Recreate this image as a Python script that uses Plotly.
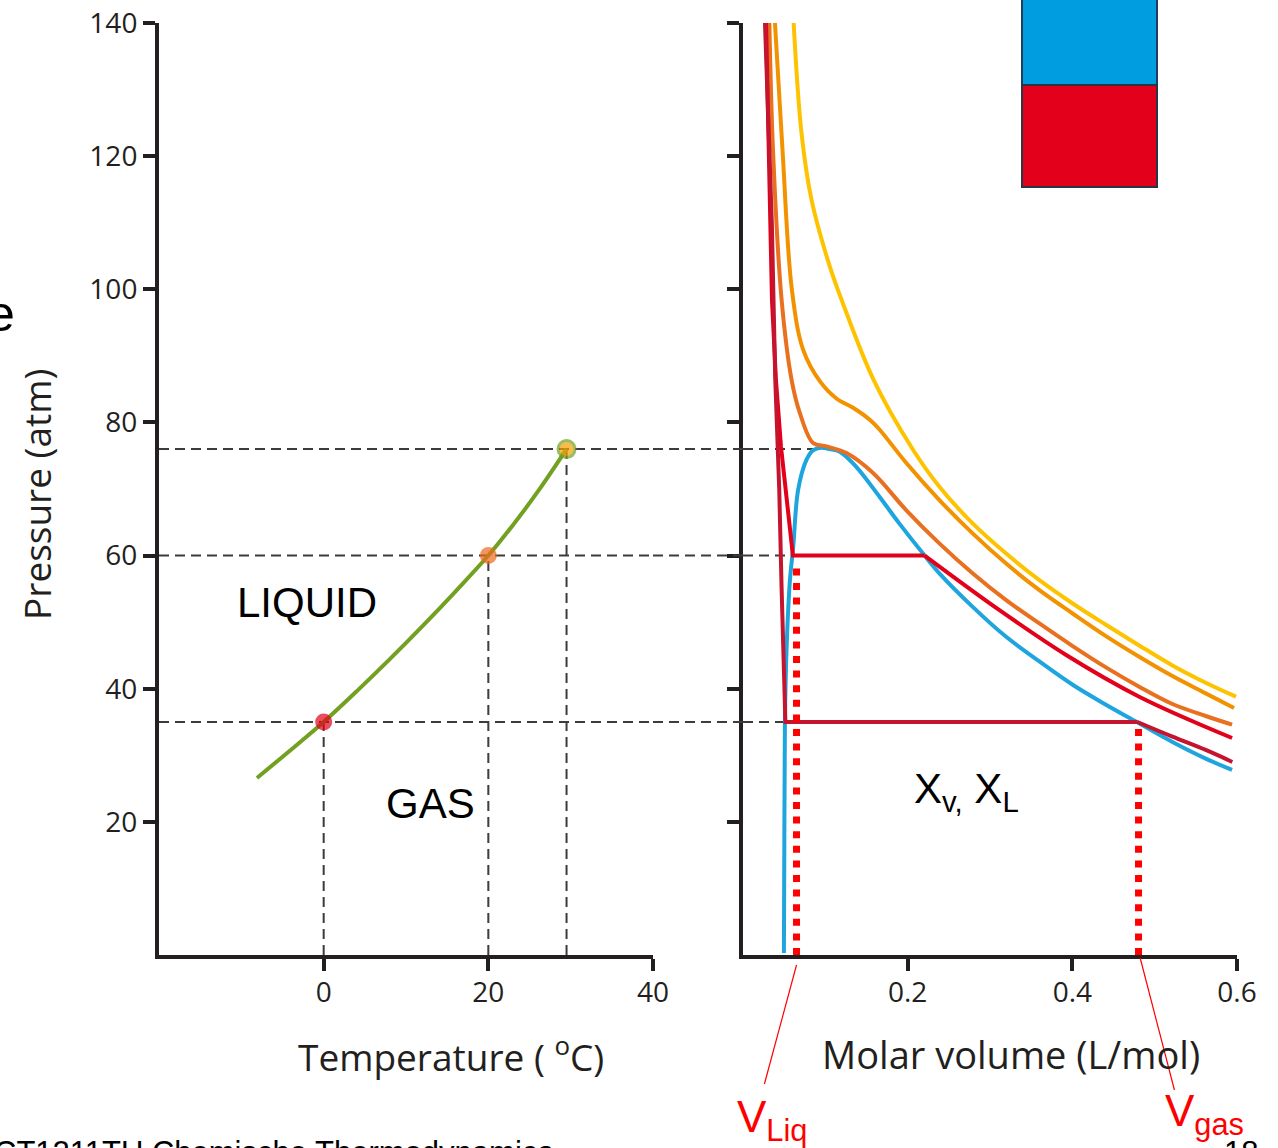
import plotly.graph_objects as go

W, H = 1278, 1148

# ---------------- data ----------------
temp_ticks = [0, 20, 40]
pres_ticks = [20, 40, 60, 80, 100, 120, 140]
vol_ticks = [0.2, 0.4, 0.6]
vol_tick_labels = ["0.2", "0.4", "0.6"]

# vapour-pressure curve (left panel)
green_T = [-8.1, -4.0, 0.0, 4.0, 8.0, 12.0, 16.0, 20.0, 23.0, 26.0, 29.5]
green_P = [26.6, 30.8, 35.0, 39.6, 44.4, 49.4, 54.6, 60.0, 64.6, 69.6, 76.0]

point_T = [0, 20, 29.5]
point_P = [35, 60, 76]
point_colors = ["#e2001a", "#ec6a1c", "#f5a000"]

# isotherms (right panel)
yellow_V = [0.0615, 0.0711, 0.0833, 0.1055, 0.1216, 0.1586, 0.2065, 0.2388, 0.2792,
            0.3196, 0.36, 0.4004, 0.4408, 0.4812, 0.5216, 0.562, 0.5988]
yellow_P = [140, 123.4, 113.4, 103.4, 97.8, 86.4, 75.9, 70.3, 64.8,
            60.3, 56.3, 52.8, 49.6, 46.5, 43.5, 40.9, 38.8]

lorange_V = [0.0388, 0.048, 0.0594, 0.0731, 0.0933, 0.1135, 0.1337, 0.154, 0.166, 0.1984,
             0.2388, 0.2792, 0.3196, 0.36, 0.4004, 0.4408, 0.4812, 0.5216, 0.562, 0.5964]
lorange_P = [140, 120.9, 99.9, 90.9, 86.2, 83.6, 82.2, 80.4, 78.9, 73.9,
             68.3, 63.3, 58.8, 54.8, 51.3, 47.9, 44.8, 41.9, 39.3, 37.1]

dorange_V = [0.032, 0.0364, 0.0469, 0.059, 0.0691, 0.0852, 0.1014, 0.1257, 0.158, 0.1984,
             0.2388, 0.2792, 0.3196, 0.36, 0.4004, 0.4408, 0.4812, 0.5216, 0.562, 0.594]
dorange_P = [140, 121, 98.4, 86.4, 81.4, 76.9, 76.4, 75.4, 72.4, 66.8,
             61.8, 57.3, 53.3, 49.8, 46.4, 43.2, 40.3, 37.7, 35.9, 34.6]

red_liq_V = [0.028, 0.0352, 0.040, 0.0461, 0.0606, 0.2206]
red_liq_P = [140, 98.4, 86.4, 76.4, 60.0, 60.0]
red_gas_V = [0.2206, 0.3115, 0.392, 0.4812, 0.594]
red_gas_P = [60.0, 51.8, 45.1, 38.8, 32.6]

dred_liq_V = [0.0267, 0.035, 0.0392, 0.044, 0.0469, 0.0515, 0.479]
dred_liq_P = [140, 110, 86.4, 70, 55, 35, 35]
dred_gas_V = [0.479, 0.5216, 0.562, 0.5943]
dred_gas_P = [35, 32.8, 30.8, 29.0]

dome_V = [0.0497, 0.0503, 0.0509, 0.053, 0.057, 0.061, 0.067, 0.0772, 0.085, 0.095, 0.105,
          0.1176, 0.1378, 0.166, 0.19, 0.2206, 0.2388, 0.279, 0.3196, 0.36, 0.4004,
          0.4408, 0.479, 0.5216, 0.562, 0.594]
dome_P = [0.3, 20, 35, 46.3, 56.3, 61.3, 69.9, 74.4, 75.8, 76.2, 76.0,
          75.6, 73.3, 68.8, 64.8, 60.0, 57.3, 52.3, 47.8, 44.1, 40.6,
          37.6, 34.95, 32.0, 29.5, 27.8]

tie_P = [35, 60, 76]
tie_V_end = [0.051, 0.0606, 0.109]

v_liq, v_liq_top = 0.065, 58.8
v_gas, v_gas_top = 0.4804, 34.3

# ---------------- style ----------------
AX = "#231f20"
DASH = "#3c3c3c"
C_YEL = "#fdc300"
C_LOR = "#f39200"
C_DOR = "#e8701e"
C_RED = "#e2001a"
C_DRED = "#c4142e"
C_BLUE = "#1ea5de"
C_GREEN = "#72a021"
LW = 4

def pxx(x):
    return x / W

def pxy(y):
    return 1 - y / H

fig = go.Figure()

def line(x, y, color, width=LW, dash=None, shape="linear", ax=1):
    fig.add_trace(go.Scatter(
        x=x, y=y, mode="lines",
        xaxis="x" if ax == 1 else "x2", yaxis="y" if ax == 1 else "y2",
        line=dict(color=color, width=width, dash=dash, shape=shape),
        hoverinfo="skip", showlegend=False))

# dashed guide lines - left panel
for p in tie_P:
    line([-20, 40], [p, p], DASH, width=2, dash="10px,6px")
for t, p in zip(point_T, point_P):
    line([t, t], [0, p], DASH, width=2, dash="10px,6px")
# dashed guide lines - right panel
for p, v in zip(tie_P, tie_V_end):
    line([0, v], [p, p], DASH, width=2, dash="10px,6px", ax=2)

# left: vapour pressure curve and points
line(green_T, green_P, C_GREEN, width=4, shape="spline")
fig.add_trace(go.Scatter(
    x=point_T, y=point_P, mode="markers", xaxis="x", yaxis="y",
    marker=dict(size=[17, 17, 17], color=point_colors,
                line=dict(color=["#e2001a", "#ec6a1c", C_GREEN], width=[0, 0, 3])),
    hoverinfo="skip", showlegend=False, cliponaxis=False))

# right: dome and isotherms
line(dome_V, dome_P, C_BLUE, shape="spline", ax=2)
line(yellow_V, yellow_P, C_YEL, shape="spline", ax=2)
line(lorange_V, lorange_P, C_LOR, shape="spline", ax=2)
line(dorange_V, dorange_P, C_DOR, shape="spline", ax=2)
line(red_liq_V, red_liq_P, C_RED, ax=2)
line(red_gas_V, red_gas_P, C_RED, shape="spline", ax=2)
line(dred_liq_V, dred_liq_P, C_DRED, ax=2)
line(dred_gas_V, dred_gas_P, C_DRED, shape="spline", ax=2)

# red dotted volume markers
line([v_liq, v_liq], [0, v_liq_top], "#ff0000", width=7, dash="7px,7.6px", ax=2)
line([v_gas, v_gas], [0, v_gas_top], "#ff0000", width=7, dash="7px,7.6px", ax=2)

tickfont = dict(family="Open Sans", size=28, color=AX)
axis_common = dict(showline=True, linecolor=AX, linewidth=4, ticks="outside",
                   ticklen=12, tickwidth=4, tickcolor=AX, showgrid=False,
                   zeroline=False, tickfont=tickfont, fixedrange=True, automargin=False)

ydom = [pxy(955), pxy(23)]
fig.update_layout(
    width=W, height=H, autosize=False,
    margin=dict(l=0, r=0, t=0, b=0, pad=0, autoexpand=False),
    paper_bgcolor="white", plot_bgcolor="white",
    font=dict(family="Open Sans", color=AX),
    xaxis=dict(domain=[pxx(159), pxx(653)], range=[-20, 40], anchor="y",
               tickvals=temp_ticks, ticktext=[str(t) for t in temp_ticks],
               ticklabelstandoff=-3, **axis_common),
    yaxis=dict(domain=ydom, range=[0, 140], anchor="x",
               tickvals=pres_ticks, ticktext=[str(p) for p in pres_ticks],
               ticklabelstandoff=0, **axis_common),
    xaxis2=dict(domain=[pxx(743), pxx(1237)], range=[0, 0.6], anchor="y2",
                tickvals=vol_ticks, ticktext=vol_tick_labels,
                ticklabelstandoff=-3, **axis_common),
    yaxis2=dict(domain=ydom, range=[0, 140], anchor="x2",
                tickvals=pres_ticks, showticklabels=False, **axis_common),
)

shapes = []
# dashed lines across the gap between panels
for p in tie_P:
    shapes.append(dict(type="line", xref="paper", yref="y", x0=pxx(653), x1=pxx(743),
                       y0=p, y1=p, line=dict(color=DASH, width=2, dash="10px,6px")))
# pointer lines to the V labels
shapes.append(dict(type="line", xref="x2", yref="paper", x0=v_liq, x1=0.026,
                   y0=pxy(965), y1=pxy(1084), line=dict(color="#ff0000", width=1.2)))
shapes.append(dict(type="line", xref="x2", yref="paper", x0=v_gas + 0.002, x1=0.524,
                   y0=pxy(958), y1=pxy(1090), line=dict(color="#ff0000", width=1.2)))
# two-phase box (top right)
shapes.append(dict(type="rect", xref="paper", yref="paper", x0=pxx(1022), x1=pxx(1157),
                   y0=pxy(85), y1=pxy(-3), fillcolor="#009ee0",
                   line=dict(color="#1f3d5c", width=2), layer="above"))
shapes.append(dict(type="rect", xref="paper", yref="paper", x0=pxx(1022), x1=pxx(1157),
                   y0=pxy(187), y1=pxy(85), fillcolor="#e2001a",
                   line=dict(color="#2b3544", width=2), layer="above"))
fig.update_layout(shapes=shapes)

ARIAL = "Liberation Sans"
ann = []
def txt(text, x, y, size, color="black", family=ARIAL, xanchor="center", yanchor="middle",
        angle=0, xref="paper", yref="paper"):
    ann.append(dict(text=text, x=x, y=y, xref=xref, yref=yref, showarrow=False,
                    font=dict(family=family, size=size, color=color),
                    xanchor=xanchor, yanchor=yanchor, textangle=angle))

txt("Pressure (atm)", pxx(36), pxy(495), 37, color=AX, family="Open Sans", angle=-90)
txt("Temperature ( <sup>o</sup>C)", pxx(451), pxy(1054), 37, color=AX, family="Open Sans")
txt("Molar volume (L/mol)", pxx(1011), pxy(1054), 38, color=AX, family="Open Sans")
txt("LIQUID", -2.0, 52.9, 42, xref="x", yref="y")
txt("GAS", 13.0, 22.7, 42, xref="x", yref="y")
txt("X<sub>v,</sub> X<sub>L</sub>", 0.2715, 24.6, 42, xref="x2", yref="y2")
txt("V<sub>Liq</sub>", pxx(772), pxy(1120), 44, color="#ff0000")
txt("V<sub>gas</sub>", pxx(1204), pxy(1114), 44, color="#ff0000")
txt("e", pxx(-15), pxy(314), 50, xanchor="left")
txt("CT1211TU Chemische Thermodynamica", pxx(-8), pxy(1152), 31, xanchor="left")
txt("18", pxx(1222), pxy(1152), 31, xanchor="left")
fig.update_layout(annotations=ann)

fig.write_html("out.html")
